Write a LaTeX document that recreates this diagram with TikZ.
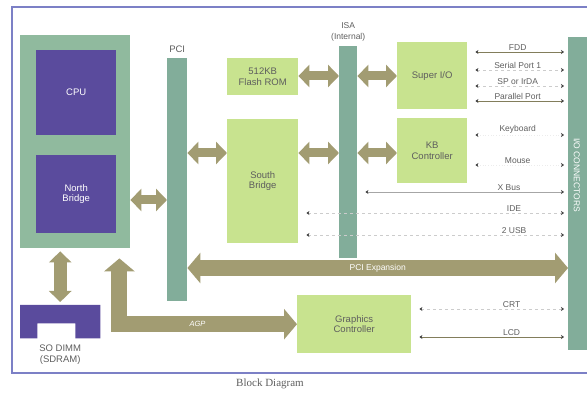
\documentclass[tikz,border=0pt]{standalone}
\usepackage{fontspec}
\setmainfont{Liberation Sans}
\newfontfamily\capfont{Liberation Serif}
\usetikzlibrary{positioning,calc,arrows.meta}

\definecolor{boxgreen}{HTML}{C8E38F}
\definecolor{chippurple}{HTML}{5A4B9D}
\definecolor{bargreen}{HTML}{82AD9A}
\definecolor{wrapgreen}{HTML}{90BA9E}
\definecolor{buskhaki}{HTML}{A29C72}
\definecolor{frameblue}{HTML}{7C80C6}
\definecolor{labelgray}{HTML}{5E5E5E}

\begin{document}
\begin{tikzpicture}[
    x=1pt, y=-1pt, % pixel units, y runs downwards
    font=\fontsize{9.5}{10.5}\selectfont,
    block/.style={
        fill=boxgreen,
        text=labelgray,
        align=center,
        inner sep=0pt,
        anchor=north west
    },
    chip/.style={
        fill=chippurple,
        text=white,
        align=center,
        inner sep=0pt,
        anchor=north west
    },
    busbar/.style={
        fill=bargreen,
        inner sep=0pt,
        anchor=north west
    },
    % --- fat bus arrows ---
    bus/.style={
        draw=buskhaki, line width=9pt,
        {Triangle[length=11pt,width=22pt]}-{Triangle[length=11pt,width=22pt]}
    },
    bigbus/.style={
        draw=buskhaki, line width=16pt,
        {Triangle[length=13pt,width=30pt]}-{Triangle[length=13pt,width=30pt]}
    },
    % --- thin signal lines to the I/O edge ---
    sig/.style={
        draw=buskhaki!80!black, line width=0.7pt,
        {Stealth[length=3pt,width=4pt,color=black!75]}-{Stealth[length=3pt,width=4pt,color=black!75]},
        shorten <=8pt, shorten >=4pt
    },
    sigdash/.style={sig, draw=gray!40, dashed},
    sigfaint/.style={sig, draw=gray!15, dotted},
    siglbl/.style={above=1pt, inner sep=0pt, font=\fontsize{8.5}{9.5}\selectfont, text=labelgray}
]
    \useasboundingbox (0,0) rectangle (587,395);

    % outer frame, open on the right
    \draw[frameblue, line width=1.2pt] (592,7) -- (12,7) -- (12,373) -- (592,373);

    % --- CPU module ---
    \node[busbar, fill=wrapgreen, minimum width=110pt, minimum height=213pt] (wrap) at (20,35) {};
    \node[chip, minimum width=80pt, minimum height=85pt] (cpu) at (36,50) {CPU};
    \node[chip, minimum width=80pt, minimum height=78pt] (nb) at (36,155) {North\\Bridge};

    % SO DIMM socket with its notch
    \node[anchor=north west, minimum width=80pt, minimum height=33pt, inner sep=0pt] (dimm) at (20,305) {};
    \fill[chippurple] (dimm.north west) -- (dimm.north east) -- (dimm.south east)
        -- ++(-25,0) -- ++(0,-15) -- ++(-38,0) -- ++(0,15) -- (dimm.south west) -- cycle;
    \node[below=3pt of dimm, align=center, text=labelgray] (dimmlbl) {SO DIMM\\(SDRAM)};

    % --- buses ---
    \node[busbar, minimum width=20pt, minimum height=243pt] (pci) at (167,58) {};
    \node[above=2pt of pci, text=labelgray] (pcilbl) {PCI};
    \node[busbar, minimum width=18pt, minimum height=212pt] (isa) at (339,46) {};
    \node[above=1pt of isa, align=center, text=labelgray, font=\fontsize{8.5}{11}\selectfont] (isalbl) {ISA\\(Internal)};
    \node[busbar, minimum width=22pt, minimum height=313pt] (io) at (568,37) {};
    \node[rotate=-90, text=white, font=\fontsize{8.5}{9}\selectfont] (iolbl) at (577,175) {I/O CONNECTORS};

    % --- peripheral chips ---
    \node[block, minimum width=71pt, minimum height=37pt] (flash) at (227,58) {512KB\\Flash ROM};
    \node[block, minimum width=71pt, minimum height=124pt] (sb) at (227,119) {South\\Bridge};
    \node[block, minimum width=70pt, minimum height=67pt] (sio) at (397,42) {Super I/O};
    \node[block, minimum width=70pt, minimum height=65pt] (kbc) at (397,118) {KB\\Controller};
    \node[block, minimum width=114pt, minimum height=58pt] (gfx) at (297,295) {Graphics\\Controller};

    % rows the arrows run on
    \coordinate (rowrom) at (0,76);
    \coordinate (rowsb)  at (0,153);
    \coordinate (rownb)  at (0,200);
    \coordinate (rowexp) at (0,268);
    \coordinate (rowx)   at (0,192);
    \coordinate (rowide) at (0,213);
    \coordinate (rowusb) at (0,235);

    \draw[bus] (wrap.east |- rownb) -- (pci.west |- rownb);
    \draw[bus] (pci.east |- rowsb) -- (sb.west |- rowsb);
    \draw[bus] (flash.east |- rowrom) -- (isa.west |- rowrom);
    \draw[bus] (sb.east |- rowsb) -- (isa.west |- rowsb);
    \draw[bus] (isa.east |- rowrom) -- (sio.west |- rowrom);
    \draw[bus] (isa.east |- rowsb) -- (kbc.west |- rowsb);
    \draw[bus, line width=13pt, shorten <=3pt, shorten >=3pt] (wrap.south -| dimm.north) -- (dimm.north);
    \draw[bigbus] (pci.east |- rowexp) -- (io.west |- rowexp)
        node[pos=0.5, text=white, font=\fontsize{8.5}{9}\selectfont] {PCI Expansion};
    \draw[bigbus] (gfx.west) -| ([xshift=-11pt,yshift=-10pt]wrap.south east)
        node[pos=0.28, text=white, font=\fontsize{7.5}{8}\itshape] {AGP};

    % Super I/O ports
    \foreach \dy/\lbl/\kind in {10/FDD/sig, 28/Serial Port 1/sigdash, 44/SP or IrDA/sigdash, 59/Parallel Port/sig}
        \draw[\kind] ($(sio.north east)+(0,\dy)$) -- ($(sio.north east -| io.west)+(0,\dy)$)
            node[siglbl, midway] {\lbl};
    % keyboard controller ports
    \foreach \dy/\lbl in {17/Keyboard, 47/Mouse}
        \draw[sigfaint] ($(kbc.north east)+(0,\dy)$) -- ($(kbc.north east -| io.west)+(0,\dy)$)
            node[siglbl, midway] {\lbl};

    \draw[sig, draw=gray!70] (isa.east |- rowx) -- (io.west |- rowx) node[siglbl, pos=0.72] {X Bus};
    \draw[sigdash] (sb.east |- rowide) -- (io.west |- rowide) node[siglbl, pos=0.8] {IDE};
    \draw[sigdash] (sb.east |- rowusb) -- (io.west |- rowusb) node[siglbl, pos=0.8] {2 USB};

    % display outputs
    \draw[sigdash] ($(gfx.north east)+(0,14)$) -- ($(gfx.north east -| io.west)+(0,14)$) node[siglbl, pos=0.64] {CRT};
    \draw[sig] ($(gfx.north east)+(0,42)$) -- ($(gfx.north east -| io.west)+(0,42)$) node[siglbl, pos=0.64] {LCD};

    \node[text=labelgray, font=\capfont\fontsize{11}{12}\selectfont] (caption) at (270,384) {Block Diagram};
\end{tikzpicture}
\end{document}
